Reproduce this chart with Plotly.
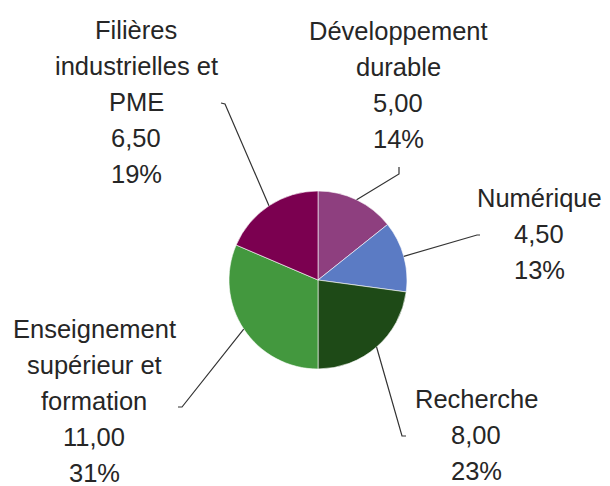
import math
import plotly.graph_objects as go

# ---- data ----
categories = ["Développement<br>durable", "Numérique", "Recherche",
              "Enseignement<br>supérieur et<br>formation", "Filières<br>industrielles et<br>PME"]
values = [5.00, 4.50, 8.00, 11.00, 6.50]
colors = ["#8E3F7F", "#5B7BC4", "#1E4A17", "#43983E", "#7B0050"]

# window 610x486; page body has an 8px margin, so the figure is reduced by that offset
OFF = 8
W, H = 610 - OFF, 486 - OFF
CX, CY, R = 318, 280, 89

# label layout (window pixels): (center x, first line y, elbow point, tick end)
label_layout = [
    (398, 31, (399, 174), (399, 167)),
    (539, 198, (477, 235), (480, 235)),
    (476, 399, (402, 436), (406, 436)),
    (94, 329, (182, 407), (178, 407)),
    (136, 30, (225, 104), (221, 103)),
]
LINE_STEP = 36.0
FONT = "Liberation Sans, Arial, sans-serif"
TXT = "#262626"


def px(x):
    return (x - OFF) / W


def py(y):
    return 1 - (y - OFF) / H


fig = go.Figure(go.Pie(
    labels=categories, values=values, sort=False, direction="clockwise",
    rotation=0, marker=dict(colors=colors, line=dict(color="#ffffff", width=0.6)),
    textinfo="none", hoverinfo="label+value+percent", showlegend=False,
    domain=dict(x=[px(CX - R), px(CX + R)], y=[py(CY + R), py(CY - R)]),
))

total = sum(values)
annotations = []
shapes = []
cum = 0.0
for name, v, (lx, ly, elbow, tick) in zip(categories, values, label_layout):
    mid = (cum + v / 2) / total * 2 * math.pi
    cum += v
    ex = CX + R * math.sin(mid)
    ey = CY - R * math.cos(mid)
    lines = name.split("<br>") + [f"{v:.2f}".replace(".", ","), f"{round(v / total * 100)}%"]
    for i, t in enumerate(lines):
        annotations.append(dict(
            x=px(lx), y=py(ly + i * LINE_STEP), xref="paper", yref="paper",
            text=t, showarrow=False, xanchor="center", yanchor="middle",
            font=dict(family=FONT, size=25.5, color=TXT)))
    path = f"M {px(ex)} {py(ey)} L {px(elbow[0])} {py(elbow[1])} L {px(tick[0])} {py(tick[1])}"
    shapes.append(dict(type="path", path=path, xref="paper", yref="paper",
                       line=dict(color="#333333", width=1.2)))

fig.update_layout(
    width=W, height=H, margin=dict(l=0, r=0, t=0, b=0),
    paper_bgcolor="white", plot_bgcolor="white",
    annotations=annotations, shapes=shapes,
)

fig.write_html("out.html")
